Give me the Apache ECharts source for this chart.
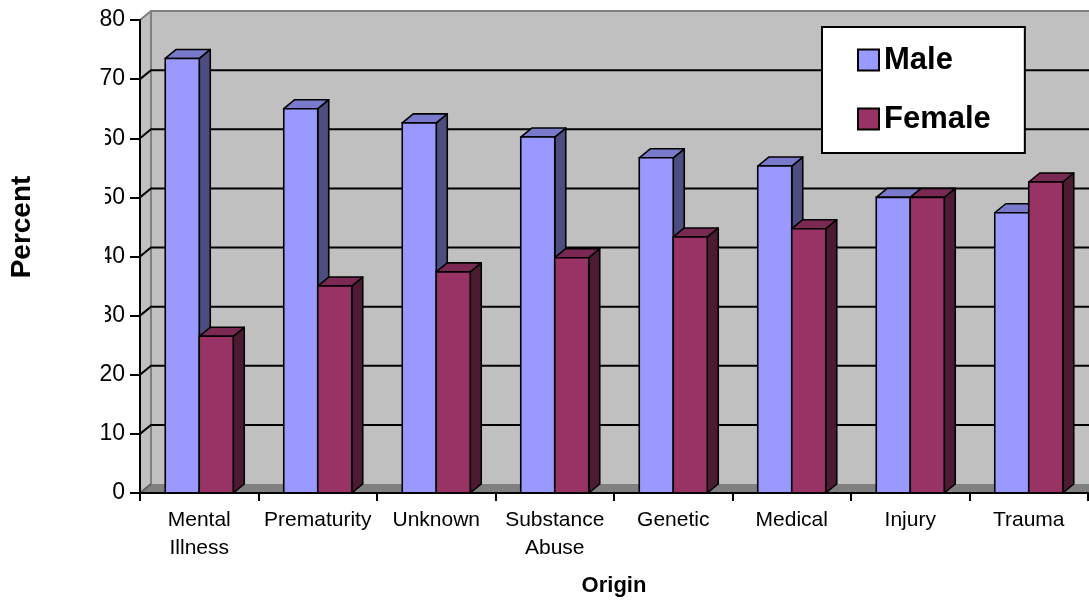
<!DOCTYPE html>
<html>
<head>
<meta charset="utf-8">
<title>Origin by gender</title>
<script src="https://cdn.jsdelivr.net/npm/echarts@6/dist/echarts.min.js"></script>
<style>
  html, body { margin: 0; padding: 0; background: #ffffff; }
  #chart { width: 1089px; height: 600px; }
</style>
</head>
<body>
<div id="chart"></div>
<script>
// Categories along the horizontal axis
const categories = ['Mental\nIllness', 'Prematurity', 'Unknown', 'Substance\nAbuse', 'Genetic', 'Medical', 'Injury', 'Trauma'];
// Percent of each origin group, by gender
const maleValues = [73.5, 65.0, 62.6, 60.2, 56.7, 55.3, 50.0, 47.4];
const femaleValues = [26.5, 35.0, 37.4, 39.8, 43.3, 44.7, 50.0, 52.6];
// Value axis ticks
const yTicks = [0, 10, 20, 30, 40, 50, 60, 70, 80];

const FONT = "'Liberation Sans', Arial, sans-serif";
// Pseudo-3D depth offset of the box (pixels to the right and up)
const DX = 11;
const DY = -9;
const BAR_FRACTION = 34 / 118.5;
const EDGE = '#000000';

const maleColors = { front: '#9999FF', top: '#7A7ACC', side: '#4D4D80' };
const femaleColors = { front: '#993366', top: '#7A2952', side: '#4D1A33' };

// Back wall, left wall, floor and the gridlines drawn on the back wall
function renderWalls(params, api) {
  const cs = params.coordSys;
  const xl = cs.x, xr = cs.x + cs.width;
  const yTop = api.coord([0, yTicks[yTicks.length - 1]])[1];
  const yBase = api.coord([0, yTicks[0]])[1];
  const children = [
    { type: 'rect', shape: { x: xl + DX, y: yTop + DY, width: xr - xl + 40, height: yBase - yTop },
      style: { fill: '#C0C0C0' } },
    { type: 'polygon', shape: { points: [[xl, yBase], [xl, yTop], [xl + DX, yTop + DY], [xl + DX, yBase + DY]] },
      style: { fill: '#C0C0C0' } },
    { type: 'polygon', shape: { points: [[xl, yBase], [xl + DX, yBase + DY], [xr + DX + 40, yBase + DY], [xr + 40, yBase]] },
      style: { fill: '#808080' } },
    { type: 'polyline', shape: { points: [[xl, yTop], [xl + DX, yTop + DY], [xr + DX + 40, yTop + DY]] },
      style: { stroke: '#808080', lineWidth: 2, fill: null } },
    { type: 'line', shape: { x1: xl + DX, y1: yTop + DY, x2: xl + DX, y2: yBase + DY },
      style: { stroke: '#808080', lineWidth: 2 } },
    { type: 'line', shape: { x1: xl, y1: yBase, x2: xl + DX, y2: yBase + DY },
      style: { stroke: '#606060', lineWidth: 2 } }
  ];
  yTicks.slice(1, -1).forEach(function (t) {
    const y = api.coord([0, t])[1];
    children.push({ type: 'polyline', shape: { points: [[xl, y], [xl + DX, y + DY], [xr + DX + 40, y + DY]] },
      style: { stroke: '#000000', lineWidth: 2, fill: null } });
  });
  return { type: 'group', children: children };
}

// A box-shaped column: side face, top face and front face
function boxRenderer(slot, colors) {
  return function (params, api) {
    const i = api.value(0);
    const v = api.value(1);
    const base = api.coord([i, 0]);
    const peak = api.coord([i, v]);
    const w = api.size([1, 0])[0] * BAR_FRACTION;
    const x0 = base[0] + slot * w;
    const x1 = x0 + w;
    const yb = base[1], yt = peak[1];
    const lw = 1.6;
    return {
      type: 'group',
      children: [
        { type: 'polygon', shape: { points: [[x1, yb], [x1 + DX, yb + DY], [x1 + DX, yt + DY], [x1, yt]] },
          style: { fill: colors.side, stroke: EDGE, lineWidth: lw, lineJoin: 'round' } },
        { type: 'polygon', shape: { points: [[x0, yt], [x0 + DX, yt + DY], [x1 + DX, yt + DY], [x1, yt]] },
          style: { fill: colors.top, stroke: EDGE, lineWidth: lw, lineJoin: 'round' } },
        { type: 'rect', shape: { x: x0, y: yt, width: w, height: yb - yt },
          style: { fill: colors.front, stroke: EDGE, lineWidth: lw } }
      ]
    };
  };
}

const chart = echarts.init(document.getElementById('chart'), null, { renderer: 'canvas' });

chart.setOption({
  backgroundColor: '#ffffff',
  animation: false,
  textStyle: { fontFamily: FONT, color: '#000000' },
  grid: { left: 140, right: 1, top: 20, bottom: 107, containLabel: false, outerBoundsMode: 'none' },
  // Value-axis title on its white panel (the panel sits over the left part of the tick labels)
  graphic: [
    {
      type: 'rect', left: 0, top: 110, z: 100, silent: true,
      shape: { width: 105, height: 234 },
      style: { fill: '#ffffff' }
    },
    {
      type: 'text', x: 22, y: 227, rotation: Math.PI / 2, z: 101, silent: true,
      style: {
        text: 'Percent', fontFamily: FONT, fontSize: 28, fontWeight: 'bold', fill: '#000000',
        align: 'center', verticalAlign: 'middle'
      }
    }
  ],
  legend: {
    orient: 'vertical',
    left: 822,
    top: 27,
    padding: [15, 34, 16, 35],
    itemGap: 23,
    itemWidth: 21,
    itemHeight: 21,
    itemTextGap: 12,
    icon: 'rect',
    backgroundColor: '#ffffff',
    borderColor: '#000000',
    borderWidth: 2,
    borderRadius: 0,
    itemStyle: { borderColor: '#000000', borderWidth: 2 },
    textStyle: { fontFamily: FONT, fontSize: 31, fontWeight: 'bold', color: '#000000', lineHeight: 36 },
    data: ['Male', 'Female']
  },
  xAxis: {
    type: 'category',
    data: categories,
    boundaryGap: true,
    z: 5,
    name: 'Origin',
    nameLocation: 'middle',
    nameGap: 82,
    nameTextStyle: { fontFamily: FONT, fontSize: 22, fontWeight: 'bold', color: '#000000' },
    axisLine: { show: true, lineStyle: { color: '#000000', width: 2 } },
    axisTick: { show: true, length: 8, interval: 0, lineStyle: { color: '#000000', width: 2 } },
    axisLabel: { interval: 0, fontFamily: FONT, fontSize: 21, lineHeight: 28, color: '#000000', margin: 13 },
    splitLine: { show: false }
  },
  yAxis: {
    type: 'value',
    min: yTicks[0],
    max: yTicks[yTicks.length - 1],
    interval: 10,
    z: 5,
    axisLine: { show: true, lineStyle: { color: '#000000', width: 2 } },
    axisTick: { show: true, length: 10, lineStyle: { color: '#000000', width: 2 } },
    axisLabel: { fontFamily: FONT, fontSize: 23, color: '#000000', margin: 15 },
    splitLine: { show: false }
  },
  series: [
    {
      type: 'custom',
      name: 'walls',
      z: 1,
      silent: true,
      renderItem: renderWalls,
      data: [[0, 0]]
    },
    {
      type: 'custom',
      name: 'Male',
      z: 2,
      itemStyle: { color: maleColors.front },
      renderItem: boxRenderer(-1, maleColors),
      data: maleValues.map(function (v, i) { return [i, v]; })
    },
    {
      type: 'custom',
      name: 'Female',
      z: 3,
      itemStyle: { color: femaleColors.front },
      renderItem: boxRenderer(0, femaleColors),
      data: femaleValues.map(function (v, i) { return [i, v]; })
    }
  ]
});
</script>
</body>
</html>
